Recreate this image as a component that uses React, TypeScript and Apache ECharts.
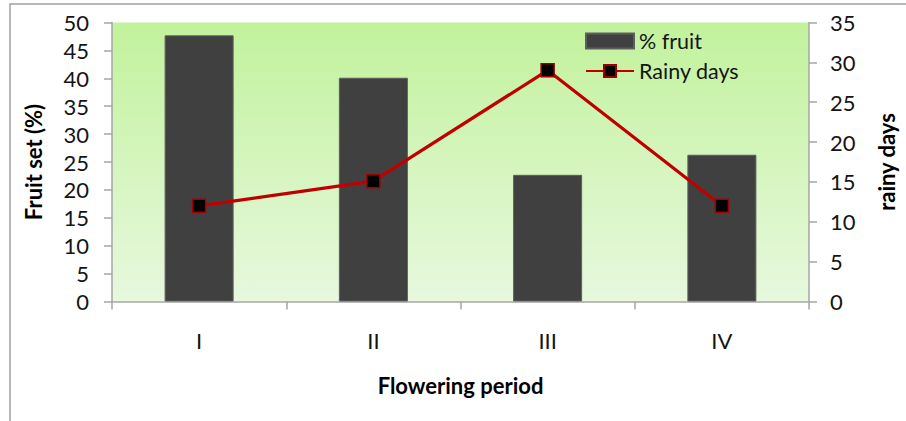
import React, { useEffect, useRef } from "react";
import * as echarts from "echarts";

const categories = ["I", "II", "III", "IV"];
const fruitSet = [47.7, 40.1, 22.7, 26.3];
const rainyDays = [12, 15.1, 29, 12];

const FONT = "Lato, 'Noto Sans', sans-serif";

export default function App() {
  const ref = useRef<HTMLDivElement>(null);
  useEffect(() => {
    if (!ref.current) return;
    const chart = echarts.init(ref.current, null, { renderer: "svg" });
    const axisColor = "#a6a6a6";
    const labelColor = "#141414";
    chart.setOption({
      animation: false,
      backgroundColor: "#ffffff",
      textStyle: { fontFamily: FONT },
      graphic: [
        {
          type: "rect",
          shape: { x: 10, y: 4, width: 1000, height: 500 },
          style: { fill: "none", stroke: "#a0a0a0", lineWidth: 1.5 },
          silent: true,
          z: -10,
        },
      ],
      grid: {
        left: 112,
        right: 97,
        top: 22.5,
        bottom: 119.5,
        show: true,
        borderWidth: 0,
        backgroundColor: {
          type: "linear",
          x: 0,
          y: 0,
          x2: 0,
          y2: 1,
          colorStops: [
            { offset: 0, color: "#c2f29c" },
            { offset: 1, color: "#e7f8de" },
          ],
        },
      },
      legend: {
        orient: "vertical",
        left: 580,
        top: 25,
        itemWidth: 48,
        itemHeight: 15,
        itemGap: 8,
        textStyle: { fontSize: 21.5, color: labelColor, fontFamily: FONT },
        data: [
          { name: "% fruit", icon: "rect" },
          { name: "Rainy days" },
        ],
      },
      xAxis: {
        type: "category",
        data: categories,
        name: "Flowering period",
        nameLocation: "middle",
        nameGap: 73,
        nameTextStyle: { fontSize: 22, fontWeight: "bold", color: "#000", fontFamily: FONT },
        axisLine: { lineStyle: { color: axisColor, width: 1.5 } },
        axisTick: { show: true, length: 8, lineStyle: { color: axisColor, width: 1.5 } },
        axisLabel: { fontSize: 22, color: labelColor, margin: 28 },
      },
      yAxis: [
        {
          type: "value",
          min: 0,
          max: 50,
          interval: 5,
          name: "Fruit set (%)",
          nameLocation: "middle",
          nameGap: 68,
          nameTextStyle: { fontSize: 22, fontWeight: "bold", color: "#000", fontFamily: FONT },
          axisLine: { show: true, lineStyle: { color: axisColor, width: 1.5 } },
          axisTick: { show: true, length: 8, lineStyle: { color: axisColor, width: 1.5 } },
          axisLabel: { fontSize: 22, color: labelColor, margin: 23 },
          splitLine: { show: false },
        },
        {
          type: "value",
          min: 0,
          max: 35,
          interval: 5,
          position: "right",
          name: "rainy days",
          nameLocation: "middle",
          nameGap: 66,
          nameRotate: 90,
          nameTextStyle: { fontSize: 22, fontWeight: "bold", color: "#000", fontFamily: FONT },
          axisLine: { show: true, lineStyle: { color: axisColor, width: 1.5 } },
          axisTick: { show: true, length: 8, lineStyle: { color: axisColor, width: 1.5 } },
          axisLabel: { fontSize: 22, color: labelColor, margin: 21 },
          splitLine: { show: false },
        },
      ],
      series: [
        {
          name: "% fruit",
          type: "bar",
          data: fruitSet,
          barWidth: "39.6%",
          itemStyle: { color: "#404040", borderColor: "#5e5e5e", borderWidth: 1 },
        },
        {
          name: "Rainy days",
          type: "line",
          yAxisIndex: 1,
          data: rainyDays,
          symbol: "rect",
          symbolSize: 13,
          lineStyle: { color: "#c00000", width: 3.2 },
          itemStyle: { color: "#000000", borderColor: "#a00000", borderWidth: 1.5 },
          z: 5,
        },
      ],
    });
    return () => chart.dispose();
  }, []);
  return (
    <div
      ref={ref}
      style={{ position: "fixed", left: 0, top: 0, width: 906, height: 421 }}
    />
  );
}
